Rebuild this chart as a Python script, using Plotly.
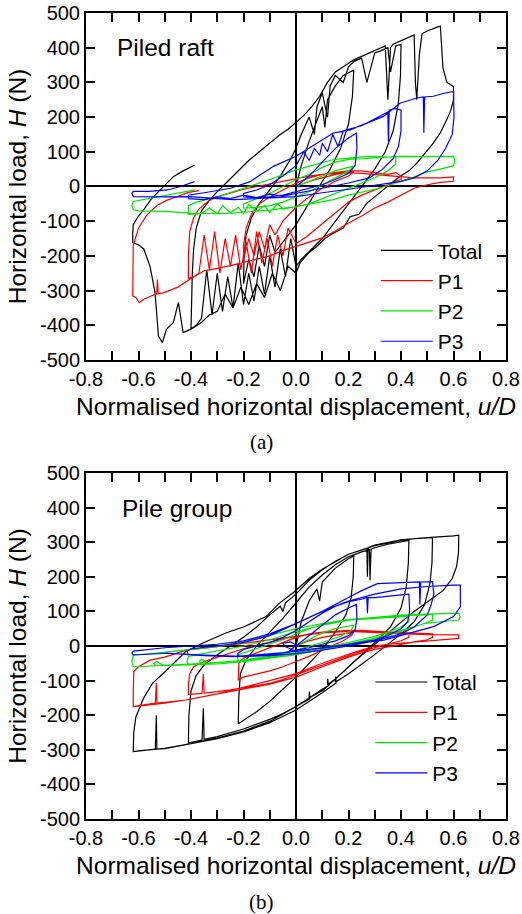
import plotly.graph_objects as go

# ---------------- tick labels / names ----------------
X_TICKS = [-0.8, -0.6, -0.4, -0.2, 0.0, 0.2, 0.4, 0.6, 0.8]
X_TICK_LABELS = ['-0.8', '-0.6', '-0.4', '-0.2', '0.0', '0.2', '0.4', '0.6', '0.8']
X_MINOR_TICKS = [-0.7, -0.5, -0.3, -0.1, 0.1, 0.3, 0.5, 0.7]
Y_TICKS = [-500, -400, -300, -200, -100, 0, 100, 200, 300, 400, 500]
Y_TICK_LABELS = ['-500', '-400', '-300', '-200', '-100', '0', '100', '200', '300', '400', '500']
SERIES_NAMES = ['Total', 'P1', 'P2', 'P3']
SERIES_COLORS = ['#000000', '#ff0000', '#00e600', '#0000ff']
PANEL_TITLES = ['Piled raft', 'Pile group']
PANEL_CAPTIONS = ['(a)', '(b)']

# ---------------- panel (a): piled raft, (u/D, H) ----------------
A_TOTAL = [
    (0, 0), (0.02, 60), (0.05, 130), (0.08, 190), (0.1, 230), (0.11, 170), (0.12, 250), (0.15, 290), (0.18, 320), (0.2, 328), (0.22, 335),
    (0.215, 260), (0.2, 180), (0.17, 110), (0.13, 50), (0.08, -10), (0.04, -60), (0.0, -110), (-0.04, -150), (-0.08, -190), (-0.1, -140),
    (-0.12, -230), (-0.14, -170), (-0.16, -260), (-0.18, -210), (-0.2, -280),
    (-0.198, -200), (-0.19, -140), (-0.17, -90), (-0.14, -50), (-0.1, -10), (-0.06, 30), (-0.02, 80), (0.0, 110), (0.02, 150), (0.05, 200),
    (0.07, 150), (0.08, 230), (0.1, 270), (0.12, 200), (0.13, 290), (0.15, 320), (0.18, 300), (0.2, 345), (0.22, 360), (0.25, 370),
    (0.27, 300), (0.3, 385), (0.32, 390), (0.35, 400), (0.36, 330), (0.38, 405), (0.4, 410),
    (0.398, 320), (0.39, 240), (0.37, 160), (0.34, 100), (0.3, 50), (0.26, 10), (0.22, -30), (0.18, -70), (0.14, -110), (0.1, -150),
    (0.06, -180), (0.02, -210), (0.0, -230), (-0.02, -150), (-0.04, -260), (-0.06, -180), (-0.08, -290), (-0.1, -200), (-0.12, -310),
    (-0.14, -230), (-0.16, -330), (-0.18, -250), (-0.2, -340), (-0.22, -220), (-0.24, -350), (-0.26, -260), (-0.28, -360), (-0.3, -250),
    (-0.32, -370), (-0.34, -240), (-0.36, -380), (-0.38, -400), (-0.4, -410),
    (-0.398, -330), (-0.395, -250), (-0.39, -180), (-0.38, -120), (-0.36, -70), (-0.33, -40), (-0.3, -15), (-0.26, 15), (-0.22, 45),
    (-0.18, 75), (-0.14, 100), (-0.1, 125), (-0.06, 150), (-0.03, 165), (0.0, 185), (0.03, 205), (0.06, 230), (0.09, 260), (0.12, 300),
    (0.15, 330), (0.18, 345), (0.2, 355), (0.22, 365), (0.25, 375), (0.28, 385), (0.31, 395), (0.34, 405), (0.35, 250), (0.36, 400),
    (0.37, 410), (0.4, 420), (0.43, 430), (0.45, 437),
    (0.455, 300), (0.46, 250), (0.47, 380), (0.48, 440), (0.5, 448), (0.52, 455), (0.54, 460), (0.55, 462), (0.555, 380), (0.56, 340),
    (0.575, 300), (0.6, 288),
    (0.6, 250), (0.59, 220), (0.574, 192), (0.55, 155), (0.523, 125), (0.49, 95), (0.46, 67), (0.43, 45), (0.396, 29), (0.36, 8),
    (0.333, -10), (0.3, -30), (0.27, -48), (0.24, -80), (0.206, -87), (0.18, -120), (0.142, -135), (0.11, -150), (0.079, -173),
    (0.05, -190), (0.015, -221), (0.0, -250), (-0.03, -230), (-0.06, -300), (-0.09, -250), (-0.12, -320), (-0.15, -280), (-0.18, -340),
    (-0.21, -290), (-0.24, -350), (-0.27, -310), (-0.3, -360), (-0.33, -370), (-0.36, -392),
    (-0.4, -411), (-0.43, -421), (-0.448, -334), (-0.467, -392), (-0.493, -411), (-0.509, -450), (-0.524, -431), (-0.537, -306),
    (-0.556, -230), (-0.58, -180), (-0.6, -168), (-0.622, -162),
    (-0.622, -135), (-0.62, -110), (-0.6, -85), (-0.58, -67), (-0.55, -35), (-0.517, -10), (-0.49, 12), (-0.466, 29), (-0.43, 45),
    (-0.386, 62),
]
A_P1 = [
    (0, 0), (0.05, 15), (0.1, 25), (0.15, 35), (0.2, 40), (0.22, 42),
    (0.2, 30), (0.15, 15), (0.1, -5), (0.05, -30), (0, -60), (-0.05, -100), (-0.08, -140), (-0.1, -110), (-0.12, -180), (-0.14, -130),
    (-0.16, -200), (-0.18, -150), (-0.2, -210),
    (-0.2, -170), (-0.19, -120), (-0.17, -80), (-0.14, -50), (-0.1, -30), (-0.05, -10), (0, 10), (0.05, 25), (0.1, 35), (0.15, 40),
    (0.2, 45), (0.25, 45), (0.3, 40), (0.35, 35), (0.38, 40), (0.4, 30),
    (0.4, 20), (0.38, 15), (0.35, 5), (0.3, -10), (0.25, -25), (0.2, -45), (0.16, -70), (0.12, -95), (0.08, -120), (0.04, -145),
    (0, -165), (-0.03, -120), (-0.05, -200), (-0.07, -140), (-0.09, -230), (-0.11, -150), (-0.13, -220), (-0.15, -130), (-0.17, -250),
    (-0.19, -160), (-0.21, -240), (-0.23, -140), (-0.25, -230), (-0.27, -150), (-0.29, -250), (-0.31, -130), (-0.33, -240),
    (-0.35, -140), (-0.37, -250), (-0.39, -260), (-0.41, -265),
    (-0.41, -200), (-0.405, -130), (-0.39, -90), (-0.37, -65), (-0.33, -40), (-0.3, -30), (-0.25, -18), (-0.2, -8), (-0.15, 0),
    (-0.1, 8), (-0.05, 15), (0, 22), (0.05, 30), (0.1, 35), (0.15, 38), (0.2, 40), (0.25, 38), (0.3, 35), (0.35, 30), (0.4, 28),
    (0.45, 25), (0.5, 25), (0.55, 25), (0.6, 28),
    (0.6, 15), (0.55, 12), (0.5, 5), (0.45, -5), (0.4, -25), (0.35, -45), (0.3, -62), (0.25, -85), (0.2, -105), (0.15, -128),
    (0.1, -148), (0.05, -160), (0, -173), (-0.05, -185), (-0.1, -200), (-0.15, -210), (-0.2, -220), (-0.25, -228), (-0.3, -236),
    (-0.35, -243), (-0.4, -265), (-0.45, -290), (-0.5, -305), (-0.525, -310), (-0.528, -268), (-0.531, -310), (-0.55, -315),
    (-0.58, -325), (-0.597, -335), (-0.61, -320), (-0.622, -316),
    (-0.622, -250), (-0.62, -170), (-0.6, -120), (-0.57, -84), (-0.53, -55), (-0.493, -40), (-0.45, -28), (-0.41, -17), (-0.37, -12),
]
A_P2 = [
    (0, 0), (0.05, 15), (0.1, 30), (0.15, 45), (0.2, 55), (0.22, 58),
    (0.2, 45), (0.15, 25), (0.1, 5), (0.05, -15), (0, -30), (-0.05, -45), (-0.1, -55), (-0.15, -60), (-0.2, -62),
    (-0.2, -50), (-0.15, -35), (-0.1, -20), (-0.05, 0), (0, 20), (0.05, 35), (0.1, 55), (0.15, 70), (0.2, 78), (0.25, 80), (0.3, 82),
    (0.35, 85), (0.38, 86),
    (0.38, 65), (0.35, 45), (0.3, 25), (0.25, 10), (0.2, -5), (0.15, -20), (0.1, -35), (0.05, -50), (0, -58), (-0.05, -65),
    (-0.07, -50), (-0.1, -75), (-0.12, -55), (-0.15, -72), (-0.18, -52), (-0.2, -78), (-0.22, -60), (-0.25, -75), (-0.28, -55),
    (-0.3, -78), (-0.33, -62), (-0.36, -78), (-0.41, -80),
    (-0.41, -55), (-0.38, -45), (-0.3, -30), (-0.2, -5), (-0.1, 20), (0, 48), (0.1, 70), (0.14, 77), (0.2, 82), (0.27, 87),
    (0.35, 85), (0.4, 87), (0.5, 86), (0.55, 87), (0.6, 87), (0.605, 75), (0.6, 60),
    (0.55, 50), (0.5, 42), (0.45, 28), (0.4, 14), (0.35, 2), (0.3, -8), (0.2, -25), (0.142, -38), (0.07, -48), (0, -58), (-0.1, -68),
    (-0.239, -77), (-0.3, -78), (-0.404, -77), (-0.5, -72), (-0.6, -70), (-0.62, -67),
    (-0.625, -55), (-0.62, -43), (-0.57, -36), (-0.518, -29), (-0.45, -20), (-0.385, -10),
]
A_P3 = [
    (0, 0), (0.05, 30), (0.1, 70), (0.15, 110), (0.2, 140), (0.23, 154),
    (0.232, 110), (0.225, 60), (0.2, 38), (0.15, 20), (0.1, 5), (0.05, -5), (0, -15), (-0.05, -25), (-0.1, -30), (-0.15, -32),
    (-0.2, -30),
    (-0.2, -20), (-0.15, -10), (-0.1, 5), (-0.05, 30), (0, 60), (0.03, 100), (0.05, 75), (0.07, 110), (0.09, 90), (0.1, 125),
    (0.12, 100), (0.14, 150), (0.16, 115), (0.18, 160), (0.2, 165), (0.25, 175), (0.3, 195), (0.33, 205), (0.35, 215), (0.352, 130),
    (0.355, 220), (0.38, 225), (0.4, 220),
    (0.4, 160), (0.39, 115), (0.37, 80), (0.33, 50), (0.28, 25), (0.2, 10), (0.1, -5), (0, -20), (-0.05, -28), (-0.1, -22),
    (-0.15, -32), (-0.2, -25), (-0.25, -35), (-0.3, -30), (-0.35, -38), (-0.41, -35),
    (-0.41, -25), (-0.35, -18), (-0.25, -5), (-0.175, 14), (-0.086, 58), (0, 87), (0.079, 125), (0.142, 154), (0.206, 163),
    (0.27, 183), (0.333, 202), (0.396, 240), (0.46, 255), (0.485, 258), (0.487, 155), (0.49, 258), (0.523, 260), (0.56, 268),
    (0.6, 274),
    (0.602, 200), (0.595, 150), (0.57, 110), (0.54, 75), (0.5, 45), (0.45, 25), (0.4, 15), (0.3, 3), (0.2, -8), (0.1, -18),
    (0, -29), (-0.1, -33), (-0.239, -38), (-0.3, -35), (-0.404, -29), (-0.5, -30), (-0.6, -30), (-0.62, -29),
    (-0.625, -20), (-0.62, -14), (-0.56, -14), (-0.49, -10), (-0.44, 0), (-0.387, 14),
]

# ---------------- panel (b): pile group, (u/D, H) ----------------
B_TOTAL = [
    (0, 0), (0.02, 70), (0.05, 130), (0.08, 165), (0.09, 130), (0.1, 185), (0.15, 225), (0.2, 252), (0.22, 260),
    (0.218, 200), (0.21, 140), (0.19, 90), (0.15, 40), (0.1, -10), (0.05, -50), (0, -90), (-0.05, -125), (-0.1, -160), (-0.15, -190),
    (-0.2, -215), (-0.22, -225),
    (-0.218, -150), (-0.212, -80), (-0.19, -40), (-0.15, 0), (-0.1, 40), (-0.05, 80), (0, 125), (0.05, 170), (0.1, 205), (0.15, 235),
    (0.2, 258), (0.25, 272), (0.28, 278), (0.282, 190), (0.286, 280), (0.3, 284), (0.35, 294), (0.4, 302), (0.43, 305),
    (0.428, 240), (0.42, 170), (0.4, 110), (0.36, 55), (0.3, 10), (0.25, -25), (0.2, -60), (0.15, -95), (0.12, -112), (0.121, -95),
    (0.123, -115), (0.1, -125), (0.05, -150), (0, -175), (-0.05, -195), (-0.1, -212), (-0.2, -240), (-0.3, -262), (-0.35, -270),
    (-0.353, -180), (-0.358, -272), (-0.41, -280),
    (-0.408, -200), (-0.4, -130), (-0.38, -85), (-0.35, -55), (-0.3, -25), (-0.25, 0), (-0.2, 25), (-0.15, 55), (-0.1, 90),
    (-0.06, 115), (-0.05, 100), (-0.04, 125), (0, 150), (0.05, 190), (0.1, 220), (0.15, 245), (0.2, 265), (0.3, 290), (0.4, 305),
    (0.45, 310), (0.5, 312), (0.52, 313),
    (0.518, 240), (0.51, 180), (0.49, 120), (0.45, 70), (0.4, 35), (0.35, 5), (0.3, -25), (0.2, -80), (0.15, -105), (0.151, -88),
    (0.153, -107), (0.1, -135), (0, -185), (-0.1, -222), (-0.2, -248), (-0.3, -268), (-0.4, -283), (-0.45, -290), (-0.5, -297),
    (-0.53, -298), (-0.532, -200), (-0.536, -298), (-0.56, -300), (-0.62, -305),
    (-0.618, -250), (-0.61, -205), (-0.58, -150), (-0.546, -107), (-0.5, -75), (-0.42, -16), (-0.35, 10), (-0.27, 37), (-0.2, 55),
    (-0.114, 85), (-0.063, 124), (-0.012, 153), (0.05, 195), (0.1, 222), (0.2, 265), (0.27, 282), (0.272, 200), (0.275, 284),
    (0.3, 292), (0.4, 307), (0.5, 313), (0.55, 315), (0.6, 318), (0.62, 320),
    (0.619, 270), (0.612, 230), (0.595, 195), (0.56, 160), (0.51, 133), (0.45, 100), (0.396, 66), (0.307, 8), (0.23, -40),
    (0.104, -127), (0.05, -150), (0.051, -132), (0.053, -152), (-0.023, -185), (-0.1, -218), (-0.2, -246), (-0.3, -266),
    (-0.4, -282), (-0.5, -296), (-0.6, -303), (-0.62, -305),
]
B_P1 = [
    (0, 0), (0.05, 15), (0.1, 25), (0.15, 32), (0.2, 38), (0.22, 40),
    (0.21, 30), (0.18, 15), (0.12, -5), (0.05, -30), (0, -45), (-0.05, -60), (-0.1, -72), (-0.15, -82), (-0.2, -90), (-0.22, -98),
    (-0.22, -75), (-0.218, -50), (-0.2, -35), (-0.15, -20), (-0.1, -5), (-0.05, 10), (0, 25), (0.05, 35), (0.1, 40), (0.15, 42),
    (0.2, 45), (0.25, 45), (0.3, 42), (0.35, 40), (0.4, 38), (0.43, 38),
    (0.43, 25), (0.4, 15), (0.35, 5), (0.3, -5), (0.25, -15), (0.2, -28), (0.15, -42), (0.1, -55), (0.05, -70), (0, -85),
    (-0.05, -97), (-0.1, -108), (-0.15, -115), (-0.2, -122), (-0.25, -127), (-0.3, -132), (-0.35, -136), (-0.353, -81),
    (-0.358, -137), (-0.41, -140),
    (-0.41, -110), (-0.405, -81), (-0.39, -60), (-0.35, -45), (-0.3, -32), (-0.25, -20), (-0.2, -8), (-0.15, 2), (-0.1, 12),
    (-0.05, 20), (0, 28), (0.05, 35), (0.1, 40), (0.2, 45), (0.3, 42), (0.4, 38), (0.5, 35), (0.52, 35),
    (0.52, 25), (0.5, 18), (0.45, 12), (0.4, 5), (0.35, -2), (0.3, -10), (0.25, -20), (0.2, -32), (0.1, -60), (0, -90), (-0.1, -110),
    (-0.2, -125), (-0.3, -140), (-0.42, -156), (-0.5, -163), (-0.53, -165), (-0.532, -107), (-0.536, -165), (-0.58, -170),
    (-0.62, -175),
    (-0.62, -130), (-0.618, -74), (-0.6, -60), (-0.556, -41), (-0.5, -32), (-0.42, -12), (-0.3, -2), (-0.2, 8), (-0.1, 18), (0, 28),
    (0.1, 38), (0.2, 42), (0.3, 40), (0.4, 36), (0.5, 33), (0.6, 32), (0.62, 32),
    (0.62, 22), (0.55, 18), (0.5, 15), (0.42, 10), (0.35, 5), (0.3, 0), (0.23, -16), (0.1, -50), (0, -80), (-0.1, -100),
    (-0.2, -120), (-0.3, -138), (-0.42, -156), (-0.5, -165), (-0.62, -175),
]
B_P2 = [
    (0, 0), (0.05, 20), (0.1, 38), (0.15, 50), (0.2, 58), (0.22, 60),
    (0.21, 45), (0.17, 28), (0.1, 10), (0.05, -2), (0, -12), (-0.05, -22), (-0.1, -30), (-0.15, -35), (-0.2, -40), (-0.22, -45),
    (-0.222, -35), (-0.22, -25), (-0.18, -15), (-0.1, 5), (-0.05, 18), (0, 35), (0.05, 50), (0.1, 62), (0.15, 70), (0.2, 75),
    (0.3, 80), (0.4, 85), (0.43, 86),
    (0.43, 70), (0.4, 55), (0.35, 40), (0.3, 28), (0.2, 10), (0.1, -5), (0, -20), (-0.1, -32), (-0.2, -42), (-0.3, -48),
    (-0.345, -50), (-0.35, -42), (-0.36, -38), (-0.368, -45), (-0.362, -52), (-0.41, -55),
    (-0.415, -45), (-0.41, -30), (-0.35, -22), (-0.3, -15), (-0.2, 0), (-0.1, 18), (0, 42), (0.1, 60), (0.2, 75), (0.3, 83),
    (0.4, 88), (0.5, 90), (0.52, 91),
    (0.52, 75), (0.5, 68), (0.45, 55), (0.4, 42), (0.3, 22), (0.2, 5), (0.1, -10), (0, -25), (-0.1, -35), (-0.2, -45), (-0.3, -52),
    (-0.4, -55), (-0.5, -57), (-0.52, -50), (-0.53, -44), (-0.542, -50), (-0.535, -57), (-0.6, -60), (-0.62, -60),
    (-0.625, -45), (-0.62, -26), (-0.55, -22), (-0.5, -18), (-0.4, -10), (-0.3, -2), (-0.2, 12), (-0.1, 30), (0, 50), (0.1, 65),
    (0.2, 76), (0.3, 83), (0.4, 89), (0.5, 92), (0.62, 95),
    (0.625, 85), (0.62, 75), (0.55, 70), (0.49, 65), (0.367, 37), (0.24, 10), (0.11, -9), (-0.023, -28), (-0.2, -42), (-0.4, -52),
    (-0.62, -60),
]
B_P3 = [
    (0, 0), (0.05, 30), (0.1, 60), (0.15, 90), (0.2, 110), (0.23, 120),
    (0.232, 80), (0.225, 45), (0.2, 30), (0.15, 15), (0.1, 5), (0.05, -5), (0, -12), (-0.05, -20), (-0.1, -25), (-0.15, -28),
    (-0.22, -30),
    (-0.222, -22), (-0.2, -10), (-0.15, 0), (-0.1, 10), (-0.05, 25), (0, 45), (0.05, 70), (0.1, 95), (0.15, 115), (0.2, 128),
    (0.25, 135), (0.27, 140), (0.272, 95), (0.275, 140), (0.3, 140), (0.35, 143), (0.4, 148), (0.43, 150),
    (0.433, 100), (0.425, 70), (0.4, 50), (0.35, 30), (0.3, 18), (0.2, 5), (0.1, -5), (0, -15), (-0.04, -2), (-0.05, 8),
    (-0.02, 12), (0, 2), (-0.03, -18), (-0.1, -25), (-0.2, -30), (-0.3, -28), (-0.41, -25),
    (-0.415, -15), (-0.4, -8), (-0.3, 0), (-0.2, 10), (-0.1, 30), (0, 65), (0.1, 100), (0.2, 140), (0.25, 160), (0.31, 180),
    (0.4, 182), (0.47, 185), (0.472, 120), (0.475, 185), (0.52, 186),
    (0.525, 150), (0.515, 120), (0.5, 90), (0.45, 55), (0.4, 35), (0.3, 15), (0.2, 0), (0.1, -12), (0, -22), (-0.1, -28),
    (-0.238, -31), (-0.35, -28), (-0.49, -21), (-0.62, -26),
    (-0.625, -20), (-0.62, -15), (-0.5, -5), (-0.4, 0), (-0.3, 5), (-0.2, 15), (-0.1, 35), (0, 65), (0.1, 100), (0.2, 130),
    (0.3, 150), (0.4, 165), (0.5, 172), (0.6, 176), (0.626, 176),
    (0.626, 113), (0.6, 85), (0.524, 56), (0.334, 17), (0.143, -2), (0, -16), (-0.238, -31), (-0.49, -21), (-0.62, -26),
]

PANELS = [[A_TOTAL, A_P1, A_P2, A_P3], [B_TOTAL, B_P1, B_P2, B_P3]]

FONT = 'Liberation Sans, Arial, sans-serif'
SERIF = 'Liberation Serif, Times New Roman, serif'

fig = go.Figure()
for p, panel in enumerate(PANELS):
    xa = 'x' if p == 0 else 'x2'
    ya = 'y' if p == 0 else 'y2'
    lg = 'legend' if p == 0 else 'legend2'
    for name, color, pts in zip(SERIES_NAMES, SERIES_COLORS, panel):
        fig.add_trace(go.Scatter(
            x=[q[0] for q in pts], y=[q[1] for q in pts], mode='lines', name=name,
            line=dict(color=color, width=1.2), xaxis=xa, yaxis=ya, legend=lg,
        ))

def xaxis_style(anchor):
    return dict(
        anchor=anchor, domain=[0, 1], range=[-0.8, 0.8], automargin=False,
        tickmode='array', tickvals=X_TICKS, ticktext=X_TICK_LABELS,
        minor=dict(tickmode='array', tickvals=X_MINOR_TICKS, ticks='inside', ticklen=9, tickwidth=2, tickcolor='black',
                   showgrid=False),
        ticks='inside', ticklen=9, tickwidth=2, tickcolor='black',
        showline=True, linewidth=2, linecolor='black', mirror='ticks',
        showgrid=False, zeroline=True, zerolinewidth=2, zerolinecolor='black',
        tickfont=dict(family=FONT, size=20, color='black'),
        title=dict(text='Normalised horizontal displacement, <i>u/D</i>',
                   font=dict(family=FONT, size=24.5, color='black'), standoff=9),
    )

def yaxis_style(anchor, domain):
    return dict(
        anchor=anchor, domain=domain, range=[-500, 500], automargin=False,
        tickmode='array', tickvals=Y_TICKS, ticktext=Y_TICK_LABELS,
        ticks='inside', ticklen=9, tickwidth=2, tickcolor='black',
        showline=True, linewidth=2, linecolor='black', mirror='ticks',
        showgrid=False, zeroline=True, zerolinewidth=2, zerolinecolor='black',
        tickfont=dict(family=FONT, size=20, color='black'),
        title=dict(text='Horizontal load, <i>H</i> (N)',
                   font=dict(family=FONT, size=24.5, color='black'), standoff=6),
    )

legend_common = dict(font=dict(family=FONT, size=21, color='black'), bgcolor='rgba(0,0,0,0)',
                     xanchor='left', yanchor='top', tracegroupgap=0, itemwidth=52)

fig.update_layout(
    template='none',
    width=522, height=914,
    margin=dict(l=86, r=16, t=13, b=95, autoexpand=False),
    paper_bgcolor='white', plot_bgcolor='white',
    showlegend=True,
    xaxis=xaxis_style('y'),
    yaxis=yaxis_style('x', [0.5695, 1.0]),
    xaxis2=xaxis_style('y2'),
    yaxis2=yaxis_style('x2', [0.0, 0.4293]),
    legend=dict(x=0.690, y=0.7305, **legend_common),
    legend2=dict(x=0.677, y=0.195, **legend_common),
    annotations=[
        dict(text=PANEL_TITLES[0], x=-0.69, y=400, xref='x', yref='y', xanchor='left', yanchor='middle',
             showarrow=False, font=dict(family=FONT, size=24.5, color='black')),
        dict(text=PANEL_TITLES[1], x=-0.67, y=398, xref='x2', yref='y2', xanchor='left', yanchor='middle',
             showarrow=False, font=dict(family=FONT, size=24.5, color='black')),
        dict(text=PANEL_CAPTIONS[0], x=0.419, y=0.4677, xref='paper', yref='paper', xanchor='center', yanchor='middle',
             showarrow=False, font=dict(family=SERIF, size=21, color='black')),
        dict(text=PANEL_CAPTIONS[1], x=0.419, y=-0.103, xref='paper', yref='paper', xanchor='center', yanchor='middle',
             showarrow=False, font=dict(family=SERIF, size=21, color='black')),
    ],
)

fig.write_html('out.html')
